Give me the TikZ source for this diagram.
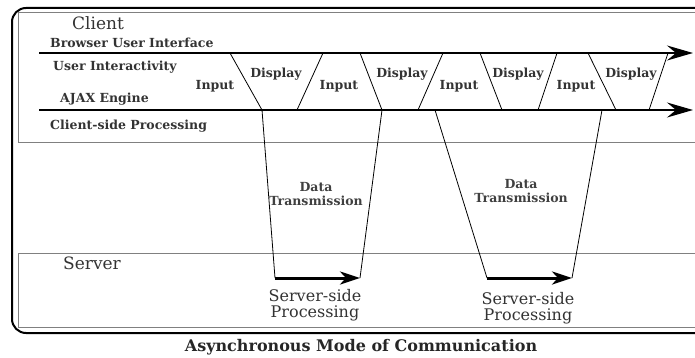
\documentclass[tikz,border=0pt]{standalone}
\usepackage{fontspec}
\setmainfont{DejaVu Serif}
\usetikzlibrary{arrows.meta, positioning}
\tikzset{
  frame/.style={draw=black, line width=2pt, rounded corners=14pt},
  panel/.style={draw=black!50, line width=1pt},
  timeline/.style={line width=2pt, -{Stealth[length=26pt, width=15pt, inset=9pt]}},
  slash/.style={line width=0.8pt},
  transfer/.style={line width=0.8pt},
  work/.style={line width=3pt, -{Stealth[length=20pt, width=13pt, inset=6pt]}},
  lbl/.style={font=\fontsize{12.5}{14}\selectfont\bfseries, text=black!80, inner sep=0pt},
  side/.style={font=\fontsize{17}{19}\selectfont, text=black!80, inner sep=0pt},
  note/.style={font=\fontsize{12.5}{14}\selectfont\bfseries, text=black!75, inner sep=0pt, align=center},
  proc/.style={font=\fontsize{16}{15.5}\selectfont, text=black!80, inner sep=0pt, align=center},
  caption/.style={font=\fontsize{16}{18}\selectfont\bfseries, text=black!85, inner sep=0pt}
}
\begin{document}
\begin{tikzpicture}[x=1pt, y=-1pt]
    \clip (0,0) rectangle (695,358);

    % Frame and panels
    \draw [frame] (12,8) rectangle (760,333);
    \draw [panel] (18,13) rectangle (760,143);
    \draw [panel] (18,253) rectangle (760,327);

    % Time lines
    \coordinate (ui0) at (39,53);
    \coordinate (ui1) at (693,53);
    \coordinate (aj0) at (39,110);
    \coordinate (aj1) at (693,110);
    \draw [timeline] (ui0) -- (ui1);
    \draw [timeline] (aj0) -- (aj1);

    % Input / display steps
    \coordinate (t1) at (230,53);  \coordinate (b1) at (262,110);
    \coordinate (t2) at (323,53);  \coordinate (b2) at (297,110);
    \coordinate (t3) at (360,53);  \coordinate (b3) at (382,110);
    \coordinate (t4) at (443,53);  \coordinate (b4) at (418,110);
    \coordinate (t5) at (480,53);  \coordinate (b5) at (502,110);
    \coordinate (t6) at (557,53);  \coordinate (b6) at (538,110);
    \coordinate (t7) at (588,53);  \coordinate (b7) at (616,110);
    \coordinate (t8) at (668,53);  \coordinate (b8) at (649,110);
    \draw [slash] (t1) -- (b1);
    \draw [slash] (t2) -- (b2);
    \draw [slash] (t3) -- (b3);
    \draw [slash] (t4) -- (b4);
    \draw [slash] (t5) -- (b5);
    \draw [slash] (t6) -- (b6);
    \draw [slash] (t7) -- (b7);
    \draw [slash] (t8) -- (b8);

    % Requests to the server and back
    \coordinate (c2) at (435,110);
    \coordinate (c4) at (602,110);
    \coordinate (sa0) at (275,278);
    \coordinate (sa1) at (360,278);
    \coordinate (sb0) at (487,278);
    \coordinate (sb1) at (572,278);
    \draw [transfer] (b1) -- (sa0);
    \draw [work] (sa0) -- (sa1);
    \draw [transfer] (sa1) -- (b3);
    \draw [transfer] (c2) -- (sb0);
    \draw [work] (sb0) -- (sb1);
    \draw [transfer] (sb1) -- (c4);

    % Labels
    \node (client) [side, anchor=west] at (72,23) {Client};
    \node (bui) [lbl, anchor=west] at (50,43) {Browser User Interface};
    \node (uint) [lbl, anchor=west] at (53,67) {User Interactivity};
    \node (ajax) [lbl, anchor=west] at (60,99) {AJAX Engine};
    \node (csp) [lbl, anchor=west] at (50,126) {Client-side Processing};
    \node (in1) [lbl] at (215,86) {Input};
    \node (di1) [lbl] at (276,74) {Display};
    \node (in2) [lbl] at (339,86) {Input};
    \node (di2) [lbl] at (402,74) {Display};
    \node (in3) [lbl] at (459,86) {Input};
    \node (di3) [lbl] at (518,74) {Display};
    \node (in4) [lbl] at (576,86) {Input};
    \node (di4) [lbl] at (631,74) {Display};
    \node (dt1) [note] at (316,194) {Data\\Transmission};
    \node (dt2) [note] at (521,191) {Data\\Transmission};
    \node (server) [side, anchor=west] at (63,263) {Server};
    \node (ssp1) [proc] at (315,305) {Server-side\\Processing};
    \node (ssp2) [proc] at (528,308) {Server-side\\Processing};
    \node (title) [caption] at (361,347) {Asynchronous Mode of Communication};
\end{tikzpicture}
\end{document}
